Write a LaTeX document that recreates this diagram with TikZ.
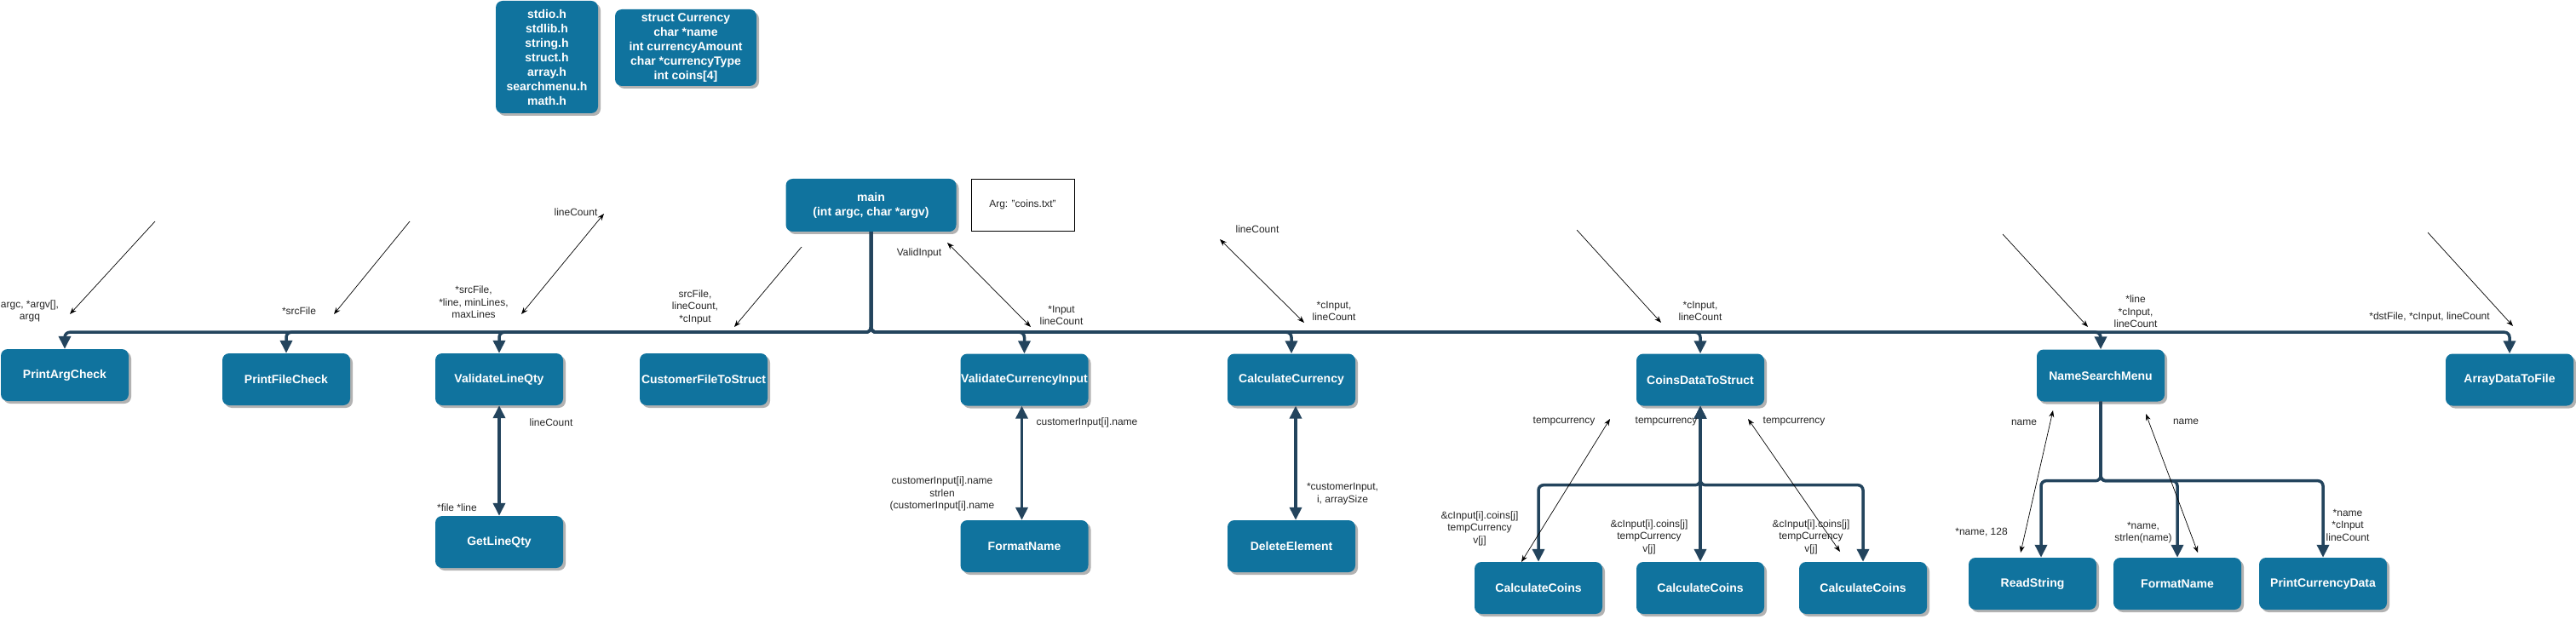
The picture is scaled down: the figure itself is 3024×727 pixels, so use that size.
\documentclass[tikz,border=0pt]{standalone}
\usepackage{fontspec}
\setmainfont{Liberation Sans}
\usetikzlibrary{arrows.meta,shadows,calc}
\definecolor{boxblue}{HTML}{10739E}
\definecolor{busblue}{HTML}{23445D}
\tikzset{
  fn/.style={rectangle, rounded corners=8pt, fill=boxblue, text=white,
    font=\fontsize{14}{17}\selectfont\bfseries, minimum width=150pt, minimum height=61pt,
    inner sep=0pt, align=center,
    drop shadow={shadow xshift=3pt, shadow yshift=-3pt, opacity=0.3, fill=black}},
  lbl/.style={font=\fontsize{12}{14.5}\selectfont, inner sep=0pt, align=center, text=black!85},
  bus/.style={draw=busblue, line width=3.5pt, rounded corners=6pt, -{Triangle[length=15pt,width=14pt]}},
  dbus/.style={draw=busblue, line width=3.5pt, rounded corners=6pt, {Triangle[length=15pt,width=14pt]}-{Triangle[length=15pt,width=14pt]}},
  tarrow/.style={draw=black, line width=0.7pt, -{Stealth[length=8pt,width=6pt]}},
  tdarrow/.style={draw=black, line width=0.7pt, {Stealth[length=8pt,width=6pt]}-{Stealth[length=8pt,width=6pt]}},
}
\begin{document}
\begin{tikzpicture}[x=1pt,y=-1pt]
\fill[white] (0,0) rectangle (3024,727);
\useasboundingbox (0,0) rectangle (3024,727);

% header boxes
\node[fn, minimum width=120pt, minimum height=132pt] (inc) at (642,67)
  {stdio.h\\stdlib.h\\string.h\\struct.h\\array.h\\searchmenu.h\\math.h};
\node[fn, minimum width=166pt, minimum height=90pt] (cur) at (805,56)
  {struct Currency\\char *name\\int currencyAmount\\char *currencyType\\int coins[4]};
\node[fn, minimum width=200pt, minimum height=62pt] (main) at (1022.5,241)
  {main\\(int argc, char *argv)};
\node[draw=black, line width=0.8pt, minimum width=121pt, minimum height=61pt, inner sep=0pt,
  font=\fontsize{12}{14.5}\selectfont, text=black!85] (arg) at (1200.5,240.5) {Arg: "coins.txt"};

% function boxes
\node[fn] (pac) at (76,440.5) {PrintArgCheck};
\node[fn] (pfc) at (336,445.5) {PrintFileCheck};
\node[fn] (vlq) at (586,445.5) {ValidateLineQty};
\node[fn] (cfs) at (826,445.5) {CustomerFileToStruct};
\node[fn] (glq) at (586,636.5) {GetLineQty};
\node[fn] (vci) at (1202.5,446) {ValidateCurrencyInput};
\node[fn] (fn1) at (1202.5,641.5) {FormatName};
\node[fn] (cc) at (1516,446) {CalculateCurrency};
\node[fn] (de) at (1516,641.5) {DeleteElement};
\node[fn] (cds) at (1996,446) {CoinsDataToStruct};
\node[fn] (cc1) at (1806,690.5) {CalculateCoins};
\node[fn] (cc2) at (1996,690.5) {CalculateCoins};
\node[fn] (cc3) at (2187,690.5) {CalculateCoins};
\node[fn] (nsm) at (2466,441) {NameSearchMenu};
\node[fn] (rs) at (2386,685.5) {ReadString};
\node[fn] (fn2) at (2556,685.5) {FormatName};
\node[fn] (pcd) at (2727,685.5) {PrintCurrencyData};
\node[fn] (adf) at (2946,446) {ArrayDataToFile};

% main bus
\draw[bus] (main.south) -- ++(0,118) -| (pac.north);
\draw[bus] (main.south) -- ++(0,118) -| (pfc.north);
\draw[bus] (main.south) -- ++(0,118) -| (vlq.north);
\draw[bus] (main.south) -- ++(0,118) -| (vci.north);
\draw[bus] (main.south) -- ++(0,118) -| (cc.north);
\draw[bus] (main.south) -- ++(0,118) -| (cds.north);
\draw[bus] (main.south) -- ++(0,118) -| (nsm.north);
\draw[bus] (main.south) -- ++(0,118) -| (adf.north);

% vertical double arrows
\draw[dbus] (vlq.south) -- (glq.north);
\draw[dbus] ([xshift=-3pt]vci.south) -- ([xshift=-3pt]fn1.north);
\draw[dbus] ([xshift=5pt]cc.south) -- ([xshift=5pt]de.north);

% CoinsDataToStruct branches (two-way)
\draw[dbus] (cds.south) -- ++(0,93) -| (cc1.north);
\draw[dbus] (cds.south) -- (cc2.north);
\draw[dbus] (cds.south) -- ++(0,93) -| (cc3.north);

% NameSearchMenu branches
\draw[bus] (nsm.south) -- ++(0,93) -| ([xshift=10pt]rs.north);
\draw[bus] (nsm.south) -- ++(0,93) -| (fn2.north);
\draw[bus] (nsm.south) -- ++(0,93) -| (pcd.north);

% thin arrows
\coordinate (a1s) at (182,260); \coordinate (a1e) at (82,369);
\coordinate (a2s) at (481,260); \coordinate (a2e) at (392,369);
\coordinate (a3s) at (709,251); \coordinate (a3e) at (612,369);
\coordinate (a4s) at (941,290); \coordinate (a4e) at (862,384);
\coordinate (a5s) at (1112,285); \coordinate (a5e) at (1210,384);
\coordinate (a6s) at (1432,281); \coordinate (a6e) at (1531,379);
\coordinate (a7s) at (1851,270); \coordinate (a7e) at (1950,379);
\coordinate (a8s) at (2351,275); \coordinate (a8e) at (2451,384);
\coordinate (a9s) at (2850,273); \coordinate (a9e) at (2950,383);
\coordinate (b1s) at (1890,492); \coordinate (b1e) at (1786,660);
\coordinate (b2s) at (2052,492); \coordinate (b2e) at (2160,648);
\coordinate (b3s) at (2410,482); \coordinate (b3e) at (2372,649);
\coordinate (b4s) at (2519,486); \coordinate (b4e) at (2580,649);
\draw[tarrow] (a1s) -- (a1e);
\draw[tarrow] (a2s) -- (a2e);
\draw[tdarrow] (a3s) -- (a3e);
\draw[tarrow] (a4s) -- (a4e);
\draw[tdarrow] (a5s) -- (a5e);
\draw[tdarrow] (a6s) -- (a6e);
\draw[tarrow] (a7s) -- (a7e);
\draw[tarrow] (a8s) -- (a8e);
\draw[tarrow] (a9s) -- (a9e);
\draw[tdarrow] (b1s) -- (b1e);
\draw[tdarrow] (b2s) -- (b2e);
\draw[tdarrow] (b3s) -- (b3e);
\draw[tdarrow] (b4s) -- (b4e);

% labels
\node[lbl] (l1) at (35,365.5) {argc, *argv[],\\argq};
\node[lbl] (l2) at (351,365) {*srcFile};
\node[lbl] (l3) at (676,249) {lineCount};
\node[lbl] (l4) at (556,355) {*srcFile,\\{}*line, minLines,\\maxLines};
\node[lbl] (l5) at (816,360.5) {srcFile,\\lineCount,\\{}*cInput};
\node[lbl] (l6) at (1079,297) {ValidInput};
\node[lbl] (l7) at (1246,370.5) {*Input\\lineCount};
\node[lbl] (l8) at (1476,269) {lineCount};
\node[lbl] (l9) at (1566,365.5) {*cInput,\\lineCount};
\node[lbl] (l10) at (1996,365.5) {*cInput,\\lineCount};
\node[lbl] (l11) at (2507,366) {*line\\{}*cInput,\\lineCount};
\node[lbl] (l12) at (2852,372) {*dstFile, *cInput, lineCount};
\node[lbl] (l13) at (647,496) {lineCount};
\node[lbl] (l14) at (536.5,596) {*file *line};
\node[lbl] (l15) at (1276,496) {customerInput[i].name};
\node[lbl] (l16) at (1106,580) {customerInput[i].name\\strlen\\(customerInput[i].name};
\node[lbl] (l17) at (1576,580) {*customerInput,\\i, arraySize};
\node[lbl] (l18) at (1836,495) {tempcurrency};
\node[lbl] (l19) at (1956,495) {tempcurrency};
\node[lbl] (l20) at (2106,495) {tempcurrency};
\node[lbl] (l21) at (1737,620.5) {\&cInput[i].coins[j]\\tempCurrency\\v[j]};
\node[lbl] (l22) at (1936,630.5) {\&cInput[i].coins[j]\\tempCurrency\\v[j]};
\node[lbl] (l23) at (2126,630.5) {\&cInput[i].coins[j]\\tempCurrency\\v[j]};
\node[lbl] (l24) at (2376,496) {name};
\node[lbl] (l25) at (2566,495) {name};
\node[lbl] (l26) at (2326,625) {*name, 128};
\node[lbl] (l27) at (2516,625.5) {*name,\\strlen(name)};
\node[lbl] (l28) at (2756,616.5) {*name\\{}*cInput\\lineCount};
\end{tikzpicture}
\end{document}
